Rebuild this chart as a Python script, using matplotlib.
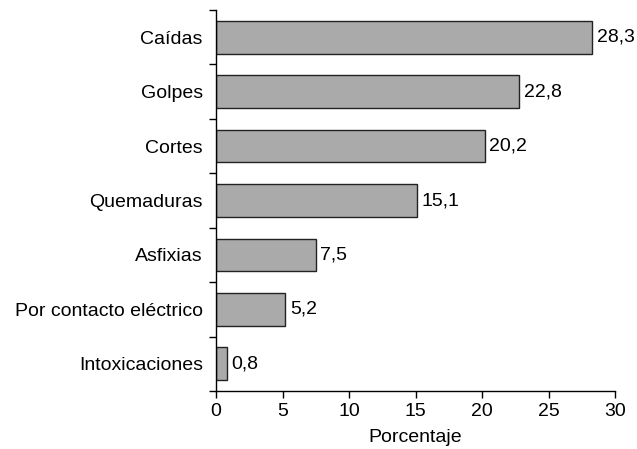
import matplotlib
matplotlib.use("Agg")
import matplotlib.pyplot as plt
from matplotlib.ticker import FixedLocator

categories = ["Caídas", "Golpes", "Cortes", "Quemaduras", "Asfixias",
              "Por contacto eléctrico", "Intoxicaciones"]
values = [28.3, 22.8, 20.2, 15.1, 7.5, 5.2, 0.8]
value_labels = ["28,3", "22,8", "20,2", "15,1", "7,5", "5,2", "0,8"]
xticks = [0, 5, 10, 15, 20, 25, 30]

plt.rcParams['font.family'] = ['Liberation Sans', 'DejaVu Sans']
plt.rcParams['font.size'] = 14

fig = plt.figure(figsize=(6.37, 4.49), dpi=100)
ax = fig.add_axes([216/637, 1 - 391/449, (615 - 216)/637, (391 - 10)/449])

n = len(categories)
ypos = list(range(n))[::-1]
ax.barh(ypos, values, height=0.6, color="#aaaaaa", edgecolor="#222222", linewidth=1.0)
for y, v, lab in zip(ypos, values, value_labels):
    ax.text(v + 0.35, y, lab, va="center", ha="left", fontsize=14)

ax.set_xlim(0, 30)
ax.set_ylim(-0.5, n - 0.5)
ax.set_xticks(xticks)
ax.set_xticklabels([str(t) for t in xticks])
ax.set_yticks(ypos)
ax.set_yticklabels(categories)
ax.yaxis.set_minor_locator(FixedLocator([i - 0.5 for i in range(n + 1)]))
ax.tick_params(axis='y', which='major', length=0, pad=9.5)
ax.tick_params(axis='y', which='minor', length=5, width=1)
ax.tick_params(axis='x', which='major', length=5, width=1, pad=4)
ax.set_xlabel("Porcentaje", labelpad=6)

for s in ["top", "right"]:
    ax.spines[s].set_visible(False)
for s in ["left", "bottom"]:
    ax.spines[s].set_linewidth(1.0)

fig.savefig("out.png", dpi=100)
